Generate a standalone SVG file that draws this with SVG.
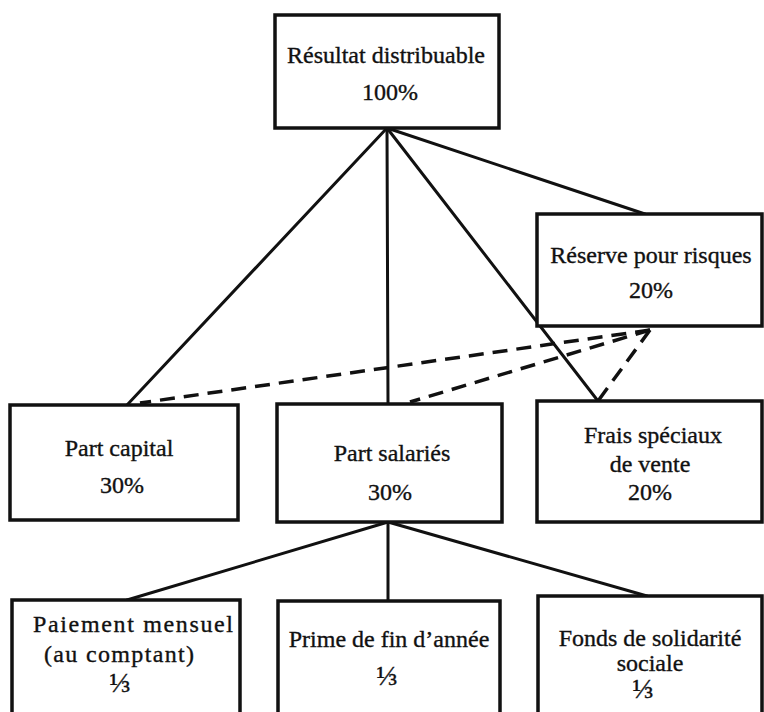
<svg xmlns="http://www.w3.org/2000/svg" width="764" height="712" viewBox="0 0 764 712">
  <style>
    .box { fill: #ffffff; stroke: #111111; stroke-width: 3.5; }
    .link { stroke: #111111; stroke-width: 3; fill: none; stroke-linecap: round; }
    .dash { stroke: #111111; stroke-width: 3.5; fill: none; stroke-dasharray: 15 9; }
    text { font-size: 24px; fill: #111111; text-anchor: middle; stroke: #111111; stroke-width: 0.35; }
    .frac { font-size: 28px; }
  </style>
  <rect x="0" y="0" width="764" height="712" fill="#ffffff"/>

  <!-- connectors -->
  <g id="connectors">
    <line class="link" x1="387" y1="128" x2="127" y2="405"/>
    <line class="link" x1="387" y1="128" x2="388" y2="404"/>
    <line class="link" x1="387" y1="128" x2="598" y2="401"/>
    <line class="link" x1="387" y1="128" x2="645" y2="214"/>
    <line class="dash" x1="650" y1="330" x2="140" y2="403"/>
    <line class="dash" x1="650" y1="330" x2="410" y2="402"/>
    <line class="dash" x1="650" y1="330" x2="598" y2="401"/>
    <line class="link" x1="388" y1="522" x2="127" y2="600"/>
    <line class="link" x1="388" y1="522" x2="388" y2="601"/>
    <line class="link" x1="388" y1="522" x2="647" y2="596"/>
  </g>

  <g font-family="'Liberation Serif', 'Times New Roman', 'DejaVu Serif', serif">
  <g id="resultat">
    <rect class="box" x="275" y="15" width="224" height="113"/>
    <text x="386" y="63">Résultat distribuable</text>
    <text x="390" y="100">100%</text>
  </g>

  <g id="reserve">
    <rect class="box" x="537" y="214" width="225" height="112"/>
    <text x="651" y="263">Réserve pour risques</text>
    <text x="651" y="298">20%</text>
  </g>

  <g id="part-capital">
    <rect class="box" x="10" y="405" width="228" height="115"/>
    <text x="119" y="456">Part capital</text>
    <text x="122" y="493">30%</text>
  </g>

  <g id="part-salaries">
    <rect class="box" x="277" y="404" width="225" height="118"/>
    <text x="392" y="461">Part salariés</text>
    <text x="390" y="500">30%</text>
  </g>

  <g id="frais">
    <rect class="box" x="537" y="401" width="225" height="121"/>
    <text x="653" y="443">Frais spéciaux</text>
    <text x="650" y="472">de vente</text>
    <text x="650" y="500">20%</text>
  </g>

  <g id="paiement">
    <rect class="box" x="12" y="600" width="228" height="120"/>
    <text x="133" y="632" textLength="200" lengthAdjust="spacing">Paiement mensuel</text>
    <text x="119" y="662" textLength="150" lengthAdjust="spacing">(au comptant)</text>
    <text class="frac" x="120" y="692">⅓</text>
  </g>

  <g id="prime">
    <rect class="box" x="278" y="601" width="222" height="120"/>
    <text x="389" y="647">Prime de fin d’année</text>
    <text class="frac" x="387" y="685">⅓</text>
  </g>

  <g id="fonds">
    <rect class="box" x="538" y="596" width="224" height="120"/>
    <text x="650" y="646">Fonds de solidarité</text>
    <text x="650" y="671">sociale</text>
    <text class="frac" x="643" y="698">⅓</text>
  </g>
  </g>
</svg>
